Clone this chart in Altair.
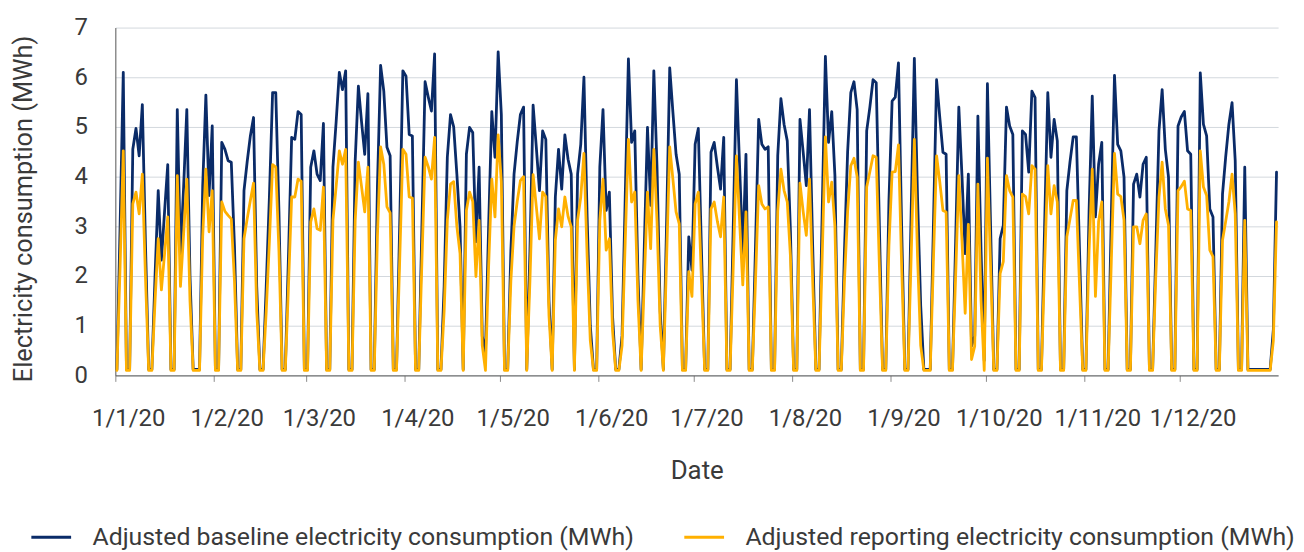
import altair as alt
import pandas as pd

# ---- daily values (MWh) ----
BASELINE_JAN = [0.12, 3.0, 6.1, 0.12, 0.12, 4.55, 4.97, 4.42, 5.45, 2.6, 0.12, 0.12, 2.0, 3.72, 2.32, 3.3,
                4.24, 0.12, 0.12, 5.35, 2.42, 3.8, 5.35, 2.0, 0.12, 0.12, 0.12, 3.8, 5.64, 3.62, 5.02]
BASELINE_FEB = [0.12, 0.12, 4.69, 4.55, 4.32, 4.29, 2.6, 0.12, 0.12, 3.72, 4.3, 4.82, 5.19, 1.8, 0.12,
                0.12, 1.8, 3.6, 5.69, 5.69, 3.3, 0.12, 0.12, 2.4, 4.79, 4.75, 5.31, 5.25, 0.12]
BASELINE_MAR = [0.12, 4.19, 4.52, 4.05, 3.92, 5.07, 0.12, 0.12, 4.19, 5.1, 6.1, 5.75, 6.13, 0.12, 0.12,
                4.32, 5.82, 5.1, 4.45, 5.67, 0.12, 0.12, 3.8, 6.24, 5.72, 4.59, 4.42, 0.12, 0.12, 3.0, 6.13]
BASELINE_APR = [6.02, 4.85, 4.82, 0.12, 0.12, 3.0, 5.91, 5.6, 5.32, 6.47, 0.12, 0.12, 1.8, 4.39, 5.25,
                5.0, 4.05, 2.99, 0.12, 4.45, 4.99, 4.89, 2.69, 4.19, 0.79, 0.45, 3.0, 5.31, 4.39, 6.51]
BASELINE_MAY = [5.25, 0.12, 0.12, 2.5, 4.05, 4.7, 5.25, 5.4, 0.12, 2.5, 5.44, 4.6, 3.72, 4.92, 4.75, 1.5,
                0.12, 3.59, 4.55, 3.75, 4.84, 4.35, 4.05, 0.12, 4.05, 4.65, 6.0, 3.2, 1.0, 0.12, 0.12]
BASELINE_JUN = [4.19, 5.35, 3.32, 3.69, 1.2, 0.12, 0.12, 0.8, 3.6, 6.37, 4.69, 4.92, 2.0, 0.12, 2.6,
                4.99, 3.42, 6.13, 4.2, 1.3, 0.12, 3.0, 6.19, 5.3, 4.45, 4.05, 0.12, 0.12, 2.79, 2.12]
BASELINE_JUL = [4.65, 4.97, 2.5, 0.12, 0.12, 4.49, 4.69, 4.2, 3.75, 4.79, 0.12, 0.12, 3.0, 5.95, 4.2,
                2.45, 4.45, 0.12, 0.12, 2.6, 5.15, 4.65, 4.55, 4.6, 0.12, 0.12, 4.42, 5.57, 5.05, 4.72, 2.9]
BASELINE_AUG = [0.12, 0.12, 5.15, 4.5, 3.82, 5.35, 2.6, 0.12, 0.12, 3.3, 6.42, 4.69, 5.31, 4.02, 0.12,
                0.12, 2.5, 4.5, 5.69, 5.91, 5.35, 0.12, 0.12, 4.92, 5.4, 5.95, 5.89, 3.0, 0.12, 0.12, 3.5]
BASELINE_SEP = [5.52, 5.6, 6.29, 3.0, 0.12, 0.12, 3.3, 6.38, 3.6, 1.4, 0.12, 0.12, 0.12, 3.0, 5.95, 5.2,
                4.49, 4.45, 0.12, 0.12, 2.7, 5.4, 4.0, 2.45, 4.05, 0.59, 0.79, 5.22, 2.5, 0.3]
BASELINE_OCT = [5.87, 3.0, 0.12, 0.12, 2.75, 3.02, 5.4, 5.02, 4.85, 0.12, 0.12, 4.92, 4.85, 4.09, 5.72,
                5.59, 0.12, 0.12, 3.0, 5.69, 4.39, 5.15, 4.72, 0.12, 0.12, 3.72, 4.3, 4.8, 4.8, 2.5, 0.12]
BASELINE_NOV = [0.12, 3.3, 5.62, 3.19, 4.25, 4.69, 0.12, 0.12, 3.2, 6.04, 4.65, 4.52, 3.99, 0.12, 0.12,
                3.85, 4.05, 3.59, 4.25, 4.39, 0.12, 0.12, 2.5, 4.92, 5.75, 4.55, 3.99, 0.12, 0.12, 5.02]
BASELINE_DEC = [5.2, 5.31, 4.52, 4.45, 0.12, 0.12, 6.09, 5.05, 4.82, 3.35, 3.19, 0.12, 0.12, 3.65, 4.4,
                5.05, 5.49, 4.32, 0.12, 0.12, 4.19, 0.12, 0.12, 0.12, 0.12, 0.12, 0.12, 0.12, 0.12, 0.92, 4.09]

REPORTING_JAN = [0.1, 2.2, 4.52, 0.1, 0.1, 3.45, 3.69, 3.25, 4.05, 1.95, 0.1, 0.1, 1.5, 2.75, 1.72, 2.45,
                 3.19, 0.1, 0.1, 4.02, 1.79, 2.85, 3.95, 1.5, 0.1, 0.1, 0.1, 2.8, 4.15, 2.89, 3.72]
REPORTING_FEB = [0.1, 0.1, 3.49, 3.3, 3.22, 3.15, 1.9, 0.1, 0.1, 2.75, 3.15, 3.52, 3.87, 1.3, 0.1, 0.1,
                 1.3, 2.7, 4.24, 4.19, 2.5, 0.1, 0.1, 1.8, 3.59, 3.59, 3.95, 3.91, 0.1]
REPORTING_MAR = [0.1, 3.09, 3.35, 2.95, 2.92, 3.79, 0.1, 0.1, 3.12, 3.8, 4.52, 4.25, 4.55, 0.1, 0.1, 3.12,
                 4.29, 3.8, 3.29, 4.19, 0.1, 0.1, 2.8, 4.6, 4.25, 3.39, 3.27, 0.1, 0.1, 2.3, 4.55]
REPORTING_APR = [4.45, 3.59, 3.57, 0.1, 0.1, 2.3, 4.39, 4.2, 3.95, 4.79, 0.1, 0.1, 1.3, 3.12, 3.85, 3.9,
                 3.0, 2.45, 0.1, 3.32, 3.69, 3.5, 1.99, 3.12, 0.6, 0.1, 2.2, 3.95, 3.19, 4.84]
REPORTING_MAY = [3.9, 0.1, 0.1, 1.9, 3.0, 3.5, 3.92, 4.0, 0.1, 1.9, 4.04, 3.4, 2.75, 3.69, 3.6, 1.2, 0.1,
                 2.72, 3.35, 2.99, 3.59, 3.2, 2.99, 0.1, 3.12, 3.59, 4.47, 2.4, 0.7, 0.1, 0.1]
REPORTING_JUN = [3.12, 3.95, 2.52, 2.75, 0.9, 0.1, 0.1, 0.6, 2.7, 4.75, 3.49, 3.69, 1.5, 0.1, 1.9, 3.69,
                 2.55, 4.55, 3.1, 1.0, 0.1, 2.3, 4.6, 3.95, 3.29, 3.05, 0.1, 0.1, 2.09, 1.59]
REPORTING_JUL = [3.45, 3.69, 1.9, 0.1, 0.1, 3.35, 3.49, 3.1, 2.79, 3.59, 0.1, 0.1, 2.2, 4.42, 3.1, 1.82,
                 3.29, 0.1, 0.1, 1.9, 3.82, 3.45, 3.35, 3.39, 0.1, 0.1, 3.3, 4.15, 3.72, 3.49, 2.4]
REPORTING_AUG = [0.1, 0.1, 3.87, 3.3, 2.82, 3.95, 1.9, 0.1, 0.1, 2.4, 4.8, 3.49, 3.89, 3.0, 0.1, 0.1, 1.9,
                 3.3, 4.22, 4.37, 3.99, 0.1, 0.1, 3.79, 4.1, 4.42, 4.39, 2.2, 0.1, 0.1, 2.6]
REPORTING_SEP = [4.09, 4.1, 4.64, 2.2, 0.1, 0.1, 2.4, 4.75, 2.4, 0.6, 0.1, 0.1, 0.1, 2.3, 4.42, 3.9, 3.32,
                 3.29, 0.1, 0.1, 2.0, 4.02, 2.7, 1.25, 3.04, 0.32, 0.59, 3.85, 1.5, 0.1]
REPORTING_OCT = [4.37, 2.2, 0.1, 0.1, 2.05, 2.29, 4.02, 3.72, 3.59, 0.1, 0.1, 3.65, 3.6, 3.25, 4.22, 4.15,
                 0.1, 0.1, 2.2, 4.22, 3.25, 3.82, 3.49, 0.1, 0.1, 2.79, 3.15, 3.52, 3.52, 1.8, 0.1]
REPORTING_NOV = [0.1, 2.5, 4.15, 1.59, 3.1, 3.49, 0.1, 0.1, 2.3, 4.47, 3.65, 3.6, 3.12, 0.1, 0.1, 2.99,
                 2.99, 2.65, 3.12, 3.25, 0.1, 0.1, 2.0, 3.59, 4.29, 3.35, 3.02, 0.1, 0.1, 3.72]
REPORTING_DEC = [3.8, 3.91, 3.35, 3.32, 0.1, 0.1, 4.52, 3.79, 3.62, 2.52, 2.39, 0.1, 0.1, 2.72, 3.1, 3.49,
                 4.05, 3.25, 0.1, 0.1, 3.12, 0.1, 0.1, 0.1, 0.1, 0.1, 0.1, 0.1, 0.1, 0.7, 3.09]

BASELINE = (BASELINE_JAN + BASELINE_FEB + BASELINE_MAR + BASELINE_APR + BASELINE_MAY + BASELINE_JUN +
            BASELINE_JUL + BASELINE_AUG + BASELINE_SEP + BASELINE_OCT + BASELINE_NOV + BASELINE_DEC)
REPORTING = (REPORTING_JAN + REPORTING_FEB + REPORTING_MAR + REPORTING_APR + REPORTING_MAY +
             REPORTING_JUN + REPORTING_JUL + REPORTING_AUG + REPORTING_SEP + REPORTING_OCT +
             REPORTING_NOV + REPORTING_DEC)

SERIES = ["Adjusted baseline electricity consumption (MWh)",
          "Adjusted reporting electricity consumption (MWh)"]
COLORS = ["#0a2b68", "#ffb000"]
TICK_LABELS = ["1/1/20", "1/2/20", "1/3/20", "1/4/20", "1/5/20", "1/6/20",
               "1/7/20", "1/8/20", "1/9/20", "1/10/20", "1/11/20", "1/12/20"]
Y_TICKS = [0, 1, 2, 3, 4, 5, 6, 7]

DATES = pd.date_range("2020-01-01", "2020-12-31", freq="D")

rows = []
for day, b, r in zip(DATES, BASELINE, REPORTING):
    t = day.strftime("%Y-%m-%dT12:00:00")
    rows.append({"date": t, "series": SERIES[0], "value": b})
    rows.append({"date": t, "series": SERIES[1], "value": r})
df = pd.DataFrame(rows)

FONT = "Roboto"
TEXT = "#3a3a3a"

label_expr = "[" + ",".join(f"'{s}'" for s in TICK_LABELS) + "][month(datum.value)]"

x = alt.X(
    "date:T",
    scale=alt.Scale(domain=[alt.DateTime(year=2020, month=1, date=1),
                            alt.DateTime(year=2021, month=1, date=1)]),
    axis=alt.Axis(
        values=[alt.DateTime(year=2020, month=m, date=1) for m in range(1, 13)],
        labelExpr=label_expr, grid=False, ticks=True, tickSize=6, tickColor="#8a8a8a",
        domainColor="#555555", labelFontSize=24, labelColor=TEXT, labelFont=FONT,
        labelPadding=25, labelOffset=13, labelFlush=False, labelOverlap=False,
        title="Date", titleFontSize=26, titleFont=FONT, titleColor=TEXT,
        titleFontWeight="normal", titleY=96, titleBaseline="middle",
    ),
)
y = alt.Y(
    "value:Q",
    scale=alt.Scale(domain=[0, 7], nice=False),
    axis=alt.Axis(
        values=Y_TICKS, grid=True, gridColor="#d3d8dd", gridWidth=1, ticks=False,
        domainColor="#555555", labelFontSize=24, labelColor=TEXT, labelFont=FONT,
        labelPadding=28, title="Electricity consumption (MWh)", titleFontSize=25.5,
        titleFont=FONT, titleColor=TEXT, titleFontWeight="normal", titleAngle=270,
        titleX=-92, titleY=182, titleAlign="center", titleBaseline="middle",
    ),
)
color = alt.Color(
    "series:N",
    scale=alt.Scale(domain=SERIES, range=COLORS),
    legend=alt.Legend(
        orient="none", legendX=-86, legendY=491, direction="horizontal", columns=2,
        title=None, symbolType="stroke", symbolSize=1600, symbolStrokeWidth=3,
        labelFontSize=25, labelFont=FONT, labelColor=TEXT, labelOffset=20,
        columnPadding=43, labelLimit=900, padding=0,
    ),
)

base = alt.Chart(df).mark_line(strokeWidth=2.8, strokeJoin="round", strokeCap="round").encode(
    x=x, y=y, color=color
)
chart = alt.layer(
    base.transform_filter(alt.datum.series == SERIES[0]),
    base.transform_filter(alt.datum.series == SERIES[1]),
).properties(
    width=1170, height=350,
    autosize=alt.AutoSizeParams(type="none"),
    padding={"left": 108, "top": 18, "right": 18, "bottom": 176},
    background="white",
).configure_view(strokeWidth=0)

chart.save("out.html", embed_options={"renderer": "svg", "actions": False})
